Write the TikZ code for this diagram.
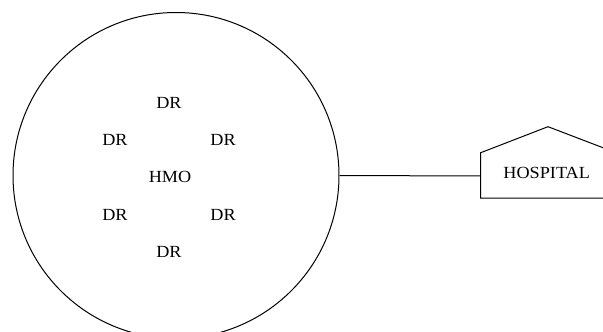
\documentclass[tikz,border=0pt]{standalone}
\usepackage{fontspec}
\setmainfont{Liberation Serif}
\begin{document}
\begin{tikzpicture}[x=1pt,y=-1pt,line width=1pt,
  lbl/.style={font=\fontsize{17}{17}\selectfont, inner sep=0pt, xscale=1.07}]
\useasboundingbox (0,0) rectangle (603,332);
\clip (0,0) rectangle (603,332);
\node[draw, circle, minimum size=326pt, inner sep=0pt] (hmoc) at (176,175.5) {};
\node[lbl] (hmo) at (170,177) {HMO};
\node[lbl] (dr1) at (169,103) {DR};
\node[lbl] (dr2) at (115,140) {DR};
\node[lbl] (dr3) at (223,140) {DR};
\node[lbl] (dr4) at (115,215) {DR};
\node[lbl] (dr5) at (223,215) {DR};
\node[lbl] (dr6) at (169,252) {DR};
\draw (480.7,198) -- (480.7,152.7) -- (548,126.7) -- (616,152.7) -- (616,198) -- cycle;
\node[lbl] (hosp) at (546.7,173.3) {HOSPITAL};
\coordinate (hw) at (480.7,176);
\draw (hmoc.east) -- (hw);
\end{tikzpicture}
\end{document}
